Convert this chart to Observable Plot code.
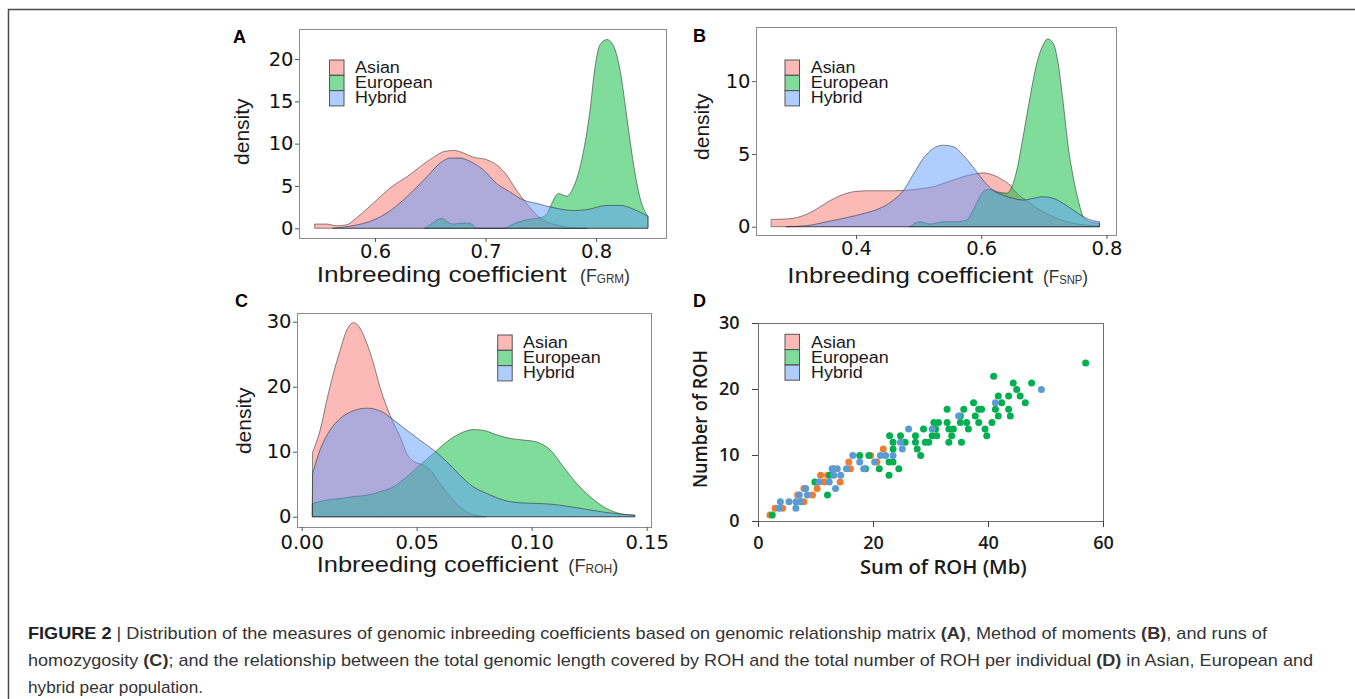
<!DOCTYPE html>
<html>
<head>
<meta charset="utf-8">
<script src="https://cdn.jsdelivr.net/npm/d3@7"></script>
<script src="https://cdn.jsdelivr.net/npm/@observablehq/plot@0.6"></script>
<style>
  html,body{margin:0;padding:0;background:#fff;}
  body{position:relative;width:1355px;height:699px;overflow:hidden;}
  .panel{position:absolute;}
  #overlay{position:absolute;left:0;top:0;pointer-events:none;}
</style>
</head>
<body>
<div id="pA" class="panel" style="left:230px;top:20px"></div>
<div id="pB" class="panel" style="left:690px;top:20px"></div>
<div id="pC" class="panel" style="left:230px;top:300px"></div>
<div id="pD" class="panel" style="left:690px;top:300px"></div>
<script>
// ---------- categories & colours ----------
const groups = ["Asian", "European", "Hybrid"];
const densityColors = ["#F8766D", "#00BA38", "#619CFF"];
const dotColors = ["#ED7D31", "#00B050", "#5B9BD5"];

// ---------- Panel A : F_GRM density curves ----------
const grmAsianX = [0.5457,0.556,0.565,0.574,0.583,0.592,0.6045,0.617,0.629,0.641,0.653,0.662,0.671,0.680,0.689,0.701,0.710,0.719,0.728,0.737,0.746,0.755,0.764,0.776,0.792];
const grmAsianY = [0.5,0.5,0.3,0.4,1.2,2.2,3.7,5.1,6.1,7.3,8.4,9.05,9.2,8.9,8.4,8.1,7.5,6.3,4.5,2.95,1.6,0.8,0.4,0.1,0];
const grmEuropeanX = [0.645,0.652,0.660,0.666,0.671,0.678,0.686,0.692,0.716,0.728,0.740,0.751,0.756,0.760,0.766,0.7735,0.779,0.7885,0.7946,0.799,0.8036,0.810,0.816,0.822,0.828,0.834,0.840,0.847];
const grmEuropeanY = [0,0.6,1.18,0.7,0.5,0.6,0.6,0,0,0.67,1.06,1.3,1.8,2.95,4.1,3.8,4.7,9,14,19,21.7,22.3,21.5,18.5,13,7.5,3.5,1.4];
const grmHybridX = [0.562,0.580,0.595,0.6106,0.6226,0.635,0.647,0.659,0.668,0.677,0.686,0.698,0.710,0.722,0.734,0.746,0.761,0.779,0.7915,0.8097,0.822,0.834,0.847];
const grmHybridY = [0,0.3,0.8,1.8,3.0,4.5,6.1,7.7,8.3,8.3,7.9,6.9,5.3,4.3,3.35,2.95,2.45,2.1,2.2,2.7,2.7,2.25,1.4];

// ---------- Panel B : F_SNP density curves ----------
const snpAsianX = [0.265,0.289,0.3105,0.332,0.353,0.3744,0.3957,0.417,0.438,0.46,0.481,0.502,0.5235,0.545,0.566,0.587,0.603,0.619,0.635,0.646,0.6567,0.673,0.694,0.715,0.7365,0.758,0.789];
const snpAsianY = [0.5,0.53,0.69,1.08,1.65,2.13,2.4,2.47,2.47,2.47,2.5,2.6,2.75,3.05,3.37,3.6,3.7,3.55,3.2,2.86,2.3,1.76,1.14,0.69,0.34,0.16,0.05];
const snpEuropeanX = [0.486,0.502,0.518,0.5395,0.561,0.577,0.587,0.598,0.606,0.614,0.625,0.641,0.649,0.657,0.667,0.678,0.6886,0.699,0.706,0.715,0.723,0.731,0.739,0.747,0.755,0.763,0.7738,0.789];
const snpEuropeanY = [0,0.34,0.18,0.34,0.34,0.46,1.14,2.06,2.5,2.56,2.4,2.3,2.75,3.9,6.2,8.9,11.2,12.5,12.9,12.6,11.2,8.5,5.5,3.4,1.83,0.69,0.34,0.23];
const snpHybridX = [0.289,0.321,0.353,0.385,0.417,0.438,0.46,0.4756,0.4916,0.5076,0.5235,0.5395,0.5555,0.5715,0.587,0.603,0.619,0.635,0.651,0.667,0.683,0.699,0.715,0.731,0.747,0.763,0.779,0.789];
const snpHybridY = [0,0.07,0.34,0.62,0.96,1.26,1.83,2.47,3.6,4.7,5.38,5.6,5.5,4.9,4.1,3.2,2.5,2.17,1.95,1.83,1.95,2.06,1.95,1.6,1.14,0.69,0.41,0.34];

// ---------- Panel C : F_ROH density curves ----------
const rohAsianX = [0.0048,0.008,0.0109,0.0138,0.0167,0.0196,0.0225,0.0254,0.0283,0.0312,0.034,0.037,0.0399,0.0428,0.0457,0.0486,0.0529,0.0558,0.0601,0.0645,0.0688,0.0732,0.0775,0.080];
const rohAsianY = [10,13.3,17.9,22.05,25.6,28.7,29.85,29.0,26.7,23.6,20.0,16.9,14.4,12.3,9.7,8.5,7.95,7.2,5.1,3.1,1.5,0.5,0.1,0];
const rohEuropeanX = [0.0048,0.0109,0.0167,0.0225,0.0283,0.034,0.0399,0.0457,0.0514,0.0572,0.063,0.0688,0.0746,0.079,0.0848,0.0906,0.0964,0.1022,0.108,0.1138,0.1196,0.1254,0.1312,0.137,0.1449];
const rohEuropeanY = [2.05,2.56,2.8,3.1,3.3,3.85,4.6,6.15,7.95,9.7,11.5,12.8,13.4,13.3,12.6,12.05,11.8,11.5,10.3,7.7,5.1,3.1,1.54,0.62,0.2];
const rohHybridX = [0.0048,0.008,0.0123,0.0167,0.0225,0.0283,0.034,0.0399,0.0457,0.0514,0.0572,0.063,0.0688,0.0746,0.0804,0.0877,0.0949,0.102,0.1094,0.1167,0.1239,0.1312,0.1384,0.1449];
const rohHybridY = [6.7,10.3,13.3,15.1,16.3,16.7,16.3,14.9,13.3,11.8,10.3,8.5,6.4,4.6,3.6,2.56,2.15,2.05,1.9,1.54,1.13,0.72,0.41,0.26];

// ---------- Panel D : sum of ROH (Mb) vs number of ROH ----------
const asianSum   = [2.0,2.9,4.2,6.8,7.3,7.9,7.9,9.4,10.2,10.8,11.4,12.0,13.0,14.2,15.7,16.0,19.5,20.6,21.7];
const asianCount = [1,2,2,4,3,3,5,4,5,7,6,7,8,6,9,8,10,9,11];
const europeanSum   = [2.4,9.8,12.0,12.4,17.6,19.2,18.6,21.0,22.7,22.7,23.4,24.4,22.8,23.4,23.4,24.7,25.5,27.3,27.3,27.6,28.2,28.7,29.0,29.6,30.2,30.5,30.8,31.0,31.3,32.8,32.8,33.1,33.1,33.6,33.9,35.1,35.1,35.3,35.7,36.2,36.5,37.4,37.7,38.3,38.3,38.8,39.4,39.7,40.6,40.9,41.2,41.7,41.7,42.3,43.5,43.5,43.8,44.3,44.9,45.5,46.4,47.5,56.9];
const europeanCount = [1,6,4,7,10,10,8,8,7,9,9,8,13,11,12,13,12,13,12,11,10,14,12,12,13,15,14,13,15,17,15,14,12,13,14,16,15,12,17,15,14,18,16,15,17,17,14,13,15,22,17,16,19,18,19,17,16,21,20,19,18,21,24];
const hybridSum   = [3.6,3.8,5.3,6.5,6.5,7.1,7.3,8.2,8.5,10.5,12.3,13.4,12.8,13.7,13.1,14.3,15.3,16.4,17.6,18.3,20.2,21.2,22.1,23.4,24.7,25.0,26.1,30.2,34.8,41.2,49.2];
const hybridCount = [2,3,3,2,3,4,3,5,4,6,6,5,8,8,7,7,8,10,9,8,9,10,10,10,12,11,14,14,16,18,20];

// ---------- tick values ----------
const ticksA_x = [0.6, 0.7, 0.8], ticksA_y = [0, 5, 10, 15, 20];
const ticksB_x = [0.4, 0.6, 0.8], ticksB_y = [0, 5, 10];
const ticksC_x = [0, 0.05, 0.10, 0.15], ticksC_y = [0, 10, 20, 30];
const ticksD_x = [0, 20, 40, 60], ticksD_y = [0, 10, 20, 30];

const zipXY = (xs, ys) => xs.map((x, i) => ({x, y: ys[i]}));

function densityPanel(id, o) {
  const marks = [];
  o.series.forEach((s, i) => marks.push(Plot.areaY(s, {
    x: "x", y: "y", fill: densityColors[i], fillOpacity: 0.5,
    stroke: "#1a1a1a", strokeWidth: 0.6, strokeOpacity: 0.85, curve: "monotone-x"
  })));
  marks.push(Plot.frame({stroke: "#8c8c8c", strokeWidth: 1}));
  marks.push(Plot.axisX({ticks: o.xTicks, tickFormat: o.xFormat, tickSize: 4, tickPadding: o.xPad, stroke: "#555", label: null}));
  marks.push(Plot.axisY({ticks: o.yTicks, tickSize: 4, tickPadding: 2, stroke: "#555", label: null}));
  const svg = Plot.plot({
    width: o.width, height: o.height,
    marginLeft: o.m[0], marginRight: o.m[1], marginTop: o.m[2], marginBottom: o.m[3],
    x: {domain: o.xDomain}, y: {domain: o.yDomain},
    style: {fontFamily: "'DejaVu Sans', sans-serif", fontSize: "19.5px", color: "#111", background: "transparent", overflow: "visible"},
    marks
  });
  document.getElementById(id).appendChild(svg);
}

densityPanel("pA", {
  width: 450, height: 280, m: [69, 14, 9, 62],
  xDomain: [0.5312, 0.8633], yDomain: [-1.15, 23.55],
  xTicks: ticksA_x, yTicks: ticksA_y, xFormat: ".1f", xPad: 1.5,
  series: [zipXY(grmAsianX, grmAsianY), zipXY(grmEuropeanX, grmEuropeanY), zipXY(grmHybridX, grmHybridY)]
});
densityPanel("pB", {
  width: 440, height: 280, m: [66, 14, 7, 65],
  xDomain: [0.2403, 0.8153], yDomain: [-0.57, 13.72],
  xTicks: ticksB_x, yTicks: ticksB_y, xFormat: ".1f", xPad: 2,
  series: [zipXY(snpAsianX, snpAsianY), zipXY(snpEuropeanX, snpEuropeanY), zipXY(snpHybridX, snpHybridY)]
});
densityPanel("pC", {
  width: 450, height: 290, m: [67, 29, 13, 63],
  xDomain: [-0.00204, 0.1519], yDomain: [-1.58, 31.34],
  xTicks: ticksC_x, yTicks: ticksC_y, xFormat: ".2f", xPad: 3.5,
  series: [zipXY(rohAsianX, rohAsianY), zipXY(rohEuropeanX, rohEuropeanY), zipXY(rohHybridX, rohHybridY)]
});

// Panel D scatter
{
  const sets = [zipXY(asianSum, asianCount), zipXY(europeanSum, europeanCount), zipXY(hybridSum, hybridCount)];
  const svg = Plot.plot({
    width: 440, height: 290, marginLeft: 68, marginRight: 27, marginTop: 23, marginBottom: 69,
    x: {domain: [0, 60]}, y: {domain: [0, 30]},
    style: {fontFamily: "'Open Sans', sans-serif", fontWeight: "600", fontSize: "18px", color: "#1a1a1a", background: "transparent", overflow: "visible"},
    marks: [
      Plot.frame({stroke: "#6f6f6f", strokeWidth: 1}),
      ...sets.map((s, i) => Plot.dot(s, {x: "x", y: "y", r: 3.5, fill: dotColors[i], stroke: "none"})),
      Plot.axisX({ticks: ticksD_x, tickSize: 6, tickPadding: 9, stroke: "#404040", label: null}),
      Plot.axisY({ticks: ticksD_y, tickSize: 6, tickPadding: 13, stroke: "#404040", label: null})
    ]
  });
  document.getElementById("pD").appendChild(svg);
}

// ---------- overlay: titles, legends, labels, caption ----------
const ov = d3.select("body").append("svg").attr("id", "overlay").attr("width", 1355).attr("height", 699);
ov.append("path").attr("d", "M8.5,699V9.5H1355").attr("fill", "none").attr("stroke", "#4a4a4a").attr("stroke-width", 1.5);

function addText(x, y, segs, o = {}) {
  const t = ov.append("text").attr("x", x).attr("y", y)
    .attr("font-family", o.family || "'Liberation Sans', Arial, sans-serif")
    .attr("font-size", o.size || 16).attr("fill", o.fill || "#1a1a1a");
  if (o.anchor) t.attr("text-anchor", o.anchor);
  if (o.weight) t.attr("font-weight", o.weight);
  if (o.len) t.attr("textLength", o.len).attr("lengthAdjust", "spacingAndGlyphs");
  if (o.rotate) t.attr("transform", `rotate(-90 ${x} ${y})`);
  for (const s of segs) {
    const sp = t.append("tspan").text(s.t);
    if (s.b) sp.attr("font-weight", "bold");
    if (s.size) sp.attr("font-size", s.size);
    if (s.dy) sp.attr("dy", s.dy);
    if (s.fill) sp.attr("fill", s.fill);
  }
  if (o.stretch) {
    const w = t.node().getComputedTextLength();
    t.attr("textLength", w * o.stretch).attr("lengthAdjust", "spacingAndGlyphs");
  }
  return t;
}

// panel letters
addText(233, 43, [{t: "A"}], {size: 18, weight: "bold", fill: "#000"});
addText(693, 42, [{t: "B"}], {size: 18, weight: "bold", fill: "#000"});
addText(235, 307, [{t: "C"}], {size: 18, weight: "bold", fill: "#000"});
addText(693, 307, [{t: "D"}], {size: 18, weight: "bold", fill: "#000"});

// y titles
addText(249, 131.7, [{t: "density"}], {size: 21, anchor: "middle", rotate: true});
addText(709, 126.7, [{t: "density"}], {size: 21, anchor: "middle", rotate: true});
addText(251, 420.8, [{t: "density"}], {size: 21, anchor: "middle", rotate: true});
addText(707, 419, [{t: "Number of ROH"}], {size: 19, anchor: "middle", rotate: true, family: "'Open Sans', sans-serif", weight: "600", len: 138});

// x titles
function xTitle(x, y, len, subX, sub, subLen) {
  addText(x, y, [{t: "Inbreeding coefficient"}], {size: 22.5, len});
  addText(subX, y, [{t: "(F"}, {t: sub, size: 12.5, dy: 1}, {t: ")", size: 19, dy: -1}], {size: 19, len: subLen, fill: "#333"});
}
xTitle(316.7, 281.7, 250, 580, "GRM", 50);
xTitle(787.3, 283, 246, 1043, "SNP", 45);
xTitle(316.7, 571.7, 241.6, 568.3, "ROH", 50);
addText(860, 574, [{t: "Sum of ROH (Mb)"}], {size: 19, family: "'Open Sans', sans-serif", weight: "600", len: 166.7});

// legends
function legend(bx, top, tx, base0) {
  groups.forEach((g, i) => {
    ov.append("rect").attr("x", bx).attr("y", top + i * 15.3).attr("width", 14.5).attr("height", 15.3)
      .attr("fill", densityColors[i]).attr("fill-opacity", 0.5).attr("stroke", "#555").attr("stroke-width", 1);
    addText(tx, base0 + i * 15, [{t: g}], {size: 16, stretch: 1.12});
  });
}
legend(329.5, 60, 355, 73.3);
legend(785, 60, 810.7, 73.3);
legend(497.7, 335, 523, 348.3);
legend(785, 334.3, 811, 347.7);

// caption
const capFill = "#333";
addText(28, 639, [
  {t: "FIGURE 2", b: 1, fill: "#222"}, {t: " | "},
  {t: "Distribution of the measures of genomic inbreeding coefficients based on genomic relationship matrix "},
  {t: "(A)", b: 1}, {t: ", Method of moments "}, {t: "(B)", b: 1}, {t: ", and runs of"}
], {size: 17, fill: capFill, len: 1239});
addText(28, 666, [
  {t: "homozygosity "}, {t: "(C)", b: 1},
  {t: "; and the relationship between the total genomic length covered by ROH and the total number of ROH per individual "},
  {t: "(D)", b: 1}, {t: " in Asian, European and"}
], {size: 17, fill: capFill, len: 1285});
addText(28, 693, [{t: "hybrid pear population."}], {size: 17, fill: capFill, len: 175});
</script>
</body>
</html>
